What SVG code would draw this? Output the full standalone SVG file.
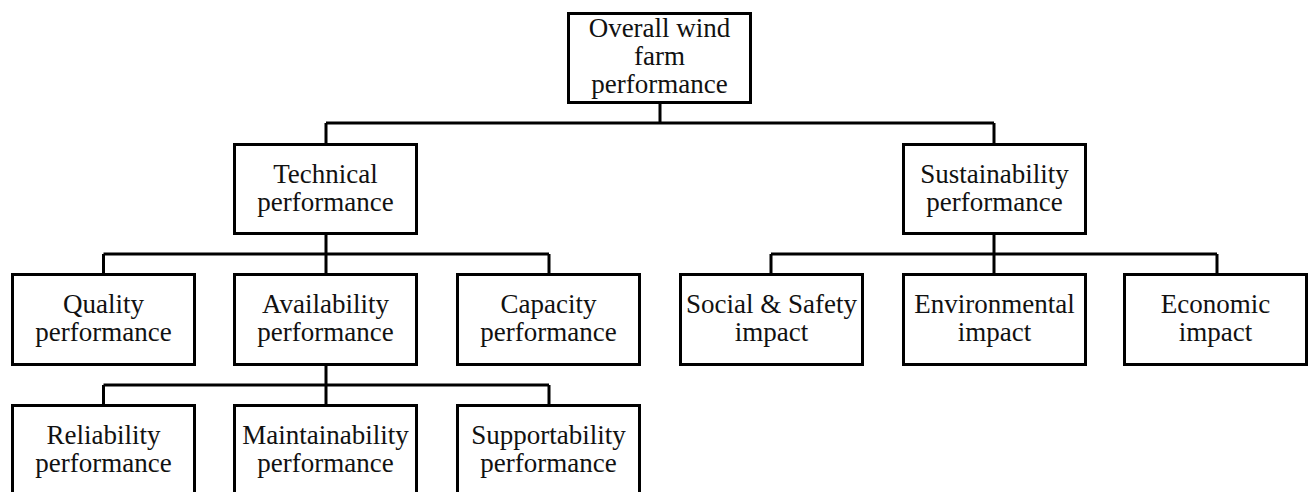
<svg xmlns="http://www.w3.org/2000/svg" width="1308" height="492" viewBox="0 0 1308 492">
<style>
.box{fill:#fff;stroke:#000;stroke-width:3}
.ln{fill:none;stroke:#000;stroke-width:3}
text{font-family:"Liberation Serif","Times New Roman",serif;font-size:27px;fill:#111;text-anchor:middle}
</style>
<rect width="1308" height="492" fill="#fff"/>
<g id="connectors">
<path class="ln" d="M660 104V123M326 123H994M326 123V143M994 123V143"/>
<path class="ln" d="M326 235V254M103.5 254H549M103.5 254V273M326 254V273M549 254V273"/>
<path class="ln" d="M994 235V254M771 254H1217M771 254V273M994 254V273M1217 254V273"/>
<path class="ln" d="M326 366V385M103.5 385H549M103.5 385V404M326 385V404M549 385V404"/>
</g>
<g id="overall"><rect class="box" x="568.5" y="13.5" width="182" height="89"/><text x="659.5" y="37">Overall wind</text><text x="659.5" y="65">farm</text><text x="659.5" y="93">performance</text></g>
<g id="technical"><rect class="box" x="234.5" y="144.5" width="182" height="89"/><text x="325.5" y="183">Technical</text><text x="325.5" y="211">performance</text></g>
<g id="sustainability"><rect class="box" x="903.5" y="144.5" width="182" height="89"/><text x="994.5" y="183">Sustainability</text><text x="994.5" y="211">performance</text></g>
<g id="quality"><rect class="box" x="12.5" y="274.5" width="182" height="90"/><text x="103.5" y="313">Quality</text><text x="103.5" y="341">performance</text></g>
<g id="availability"><rect class="box" x="234.5" y="274.5" width="182" height="90"/><text x="325.5" y="313">Availability</text><text x="325.5" y="341">performance</text></g>
<g id="capacity"><rect class="box" x="457.5" y="274.5" width="182" height="90"/><text x="548.5" y="313">Capacity</text><text x="548.5" y="341">performance</text></g>
<g id="social"><rect class="box" x="680.5" y="274.5" width="182" height="90"/><text x="771.5" y="313">Social &amp; Safety</text><text x="771.5" y="341">impact</text></g>
<g id="environmental"><rect class="box" x="903.5" y="274.5" width="182" height="90"/><text x="994.5" y="313">Environmental</text><text x="994.5" y="341">impact</text></g>
<g id="economic"><rect class="box" x="1124.5" y="274.5" width="182" height="90"/><text x="1215.5" y="313">Economic</text><text x="1215.5" y="341">impact</text></g>
<g id="reliability"><rect class="box" x="12.5" y="405.5" width="182" height="100"/><text x="103.5" y="444">Reliability</text><text x="103.5" y="472">performance</text></g>
<g id="maintainability"><rect class="box" x="234.5" y="405.5" width="182" height="100"/><text x="325.5" y="444">Maintainability</text><text x="325.5" y="472">performance</text></g>
<g id="supportability"><rect class="box" x="457.5" y="405.5" width="182" height="100"/><text x="548.5" y="444">Supportability</text><text x="548.5" y="472">performance</text></g>
</svg>
